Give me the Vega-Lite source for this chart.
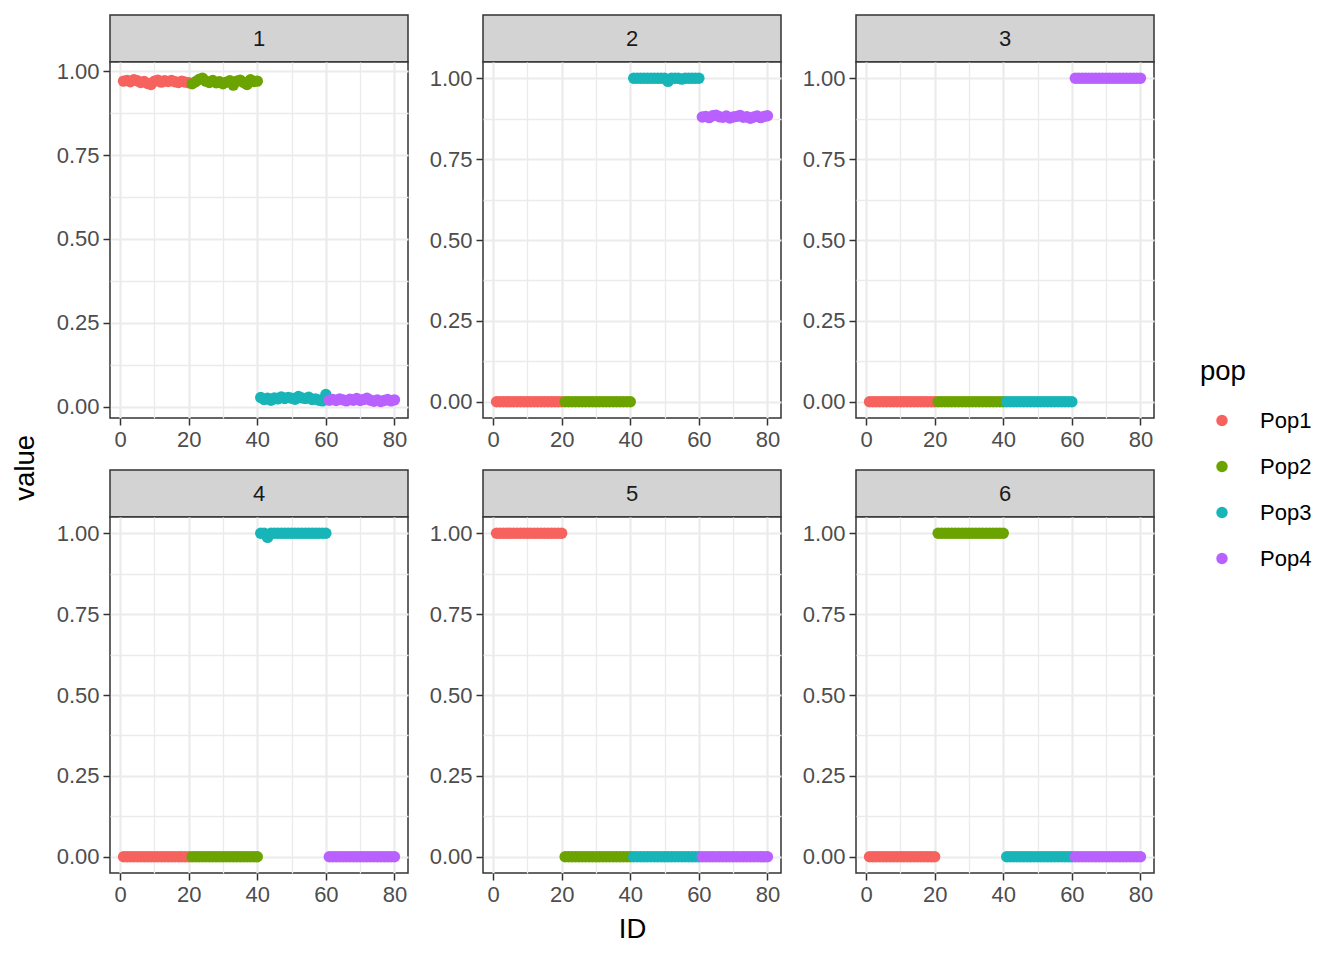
{
  "$schema": "https://vega.github.io/schema/vega-lite/v6.json",
  "description": "Faceted membership values by ID and population, six panels",
  "padding": {"left": 11, "top": 14, "right": 12, "bottom": 10},
  "background": "white",
  "title": {"text": "value", "orient": "left", "anchor": "middle", "fontSize": 27.5, "fontWeight": "normal", "color": "black", "offset": 16, "dx": 11},
  "datasets": {
    "p1": [
      {"ID":1,"pop":"Pop1","value":0.970},{"ID":2,"pop":"Pop1","value":0.972},{"ID":3,"pop":"Pop1","value":0.968},{"ID":4,"pop":"Pop1","value":0.974},
      {"ID":5,"pop":"Pop1","value":0.971},{"ID":6,"pop":"Pop1","value":0.966},{"ID":7,"pop":"Pop1","value":0.969},{"ID":8,"pop":"Pop1","value":0.963},
      {"ID":9,"pop":"Pop1","value":0.960},{"ID":10,"pop":"Pop1","value":0.970},{"ID":11,"pop":"Pop1","value":0.973},{"ID":12,"pop":"Pop1","value":0.967},
      {"ID":13,"pop":"Pop1","value":0.971},{"ID":14,"pop":"Pop1","value":0.969},{"ID":15,"pop":"Pop1","value":0.972},{"ID":16,"pop":"Pop1","value":0.968},
      {"ID":17,"pop":"Pop1","value":0.966},{"ID":18,"pop":"Pop1","value":0.970},{"ID":19,"pop":"Pop1","value":0.967},{"ID":20,"pop":"Pop1","value":0.965},
      {"ID":21,"pop":"Pop2","value":0.962},{"ID":22,"pop":"Pop2","value":0.968},{"ID":23,"pop":"Pop2","value":0.975},{"ID":24,"pop":"Pop2","value":0.979},
      {"ID":25,"pop":"Pop2","value":0.970},{"ID":26,"pop":"Pop2","value":0.966},{"ID":27,"pop":"Pop2","value":0.972},{"ID":28,"pop":"Pop2","value":0.965},
      {"ID":29,"pop":"Pop2","value":0.968},{"ID":30,"pop":"Pop2","value":0.962},{"ID":31,"pop":"Pop2","value":0.967},{"ID":32,"pop":"Pop2","value":0.971},
      {"ID":33,"pop":"Pop2","value":0.958},{"ID":34,"pop":"Pop2","value":0.970},{"ID":35,"pop":"Pop2","value":0.973},{"ID":36,"pop":"Pop2","value":0.966},
      {"ID":37,"pop":"Pop2","value":0.960},{"ID":38,"pop":"Pop2","value":0.974},{"ID":39,"pop":"Pop2","value":0.969},{"ID":40,"pop":"Pop2","value":0.970},
      {"ID":41,"pop":"Pop3","value":0.028},{"ID":42,"pop":"Pop3","value":0.022},{"ID":43,"pop":"Pop3","value":0.026},{"ID":44,"pop":"Pop3","value":0.020},
      {"ID":45,"pop":"Pop3","value":0.027},{"ID":46,"pop":"Pop3","value":0.024},{"ID":47,"pop":"Pop3","value":0.030},{"ID":48,"pop":"Pop3","value":0.025},
      {"ID":49,"pop":"Pop3","value":0.028},{"ID":50,"pop":"Pop3","value":0.026},{"ID":51,"pop":"Pop3","value":0.023},{"ID":52,"pop":"Pop3","value":0.031},
      {"ID":53,"pop":"Pop3","value":0.027},{"ID":54,"pop":"Pop3","value":0.025},{"ID":55,"pop":"Pop3","value":0.029},{"ID":56,"pop":"Pop3","value":0.022},
      {"ID":57,"pop":"Pop3","value":0.024},{"ID":58,"pop":"Pop3","value":0.020},{"ID":59,"pop":"Pop3","value":0.018},{"ID":60,"pop":"Pop3","value":0.037},
      {"ID":61,"pop":"Pop4","value":0.020},{"ID":62,"pop":"Pop4","value":0.022},{"ID":63,"pop":"Pop4","value":0.019},{"ID":64,"pop":"Pop4","value":0.024},
      {"ID":65,"pop":"Pop4","value":0.021},{"ID":66,"pop":"Pop4","value":0.018},{"ID":67,"pop":"Pop4","value":0.023},{"ID":68,"pop":"Pop4","value":0.020},
      {"ID":69,"pop":"Pop4","value":0.025},{"ID":70,"pop":"Pop4","value":0.019},{"ID":71,"pop":"Pop4","value":0.022},{"ID":72,"pop":"Pop4","value":0.026},
      {"ID":73,"pop":"Pop4","value":0.020},{"ID":74,"pop":"Pop4","value":0.017},{"ID":75,"pop":"Pop4","value":0.021},{"ID":76,"pop":"Pop4","value":0.016},
      {"ID":77,"pop":"Pop4","value":0.019},{"ID":78,"pop":"Pop4","value":0.022},{"ID":79,"pop":"Pop4","value":0.018},{"ID":80,"pop":"Pop4","value":0.021}
    ],
    "p2": [
      {"ID":1,"pop":"Pop1","value":0},{"ID":2,"pop":"Pop1","value":0},{"ID":3,"pop":"Pop1","value":0},{"ID":4,"pop":"Pop1","value":0},
      {"ID":5,"pop":"Pop1","value":0},{"ID":6,"pop":"Pop1","value":0},{"ID":7,"pop":"Pop1","value":0},{"ID":8,"pop":"Pop1","value":0},
      {"ID":9,"pop":"Pop1","value":0},{"ID":10,"pop":"Pop1","value":0},{"ID":11,"pop":"Pop1","value":0},{"ID":12,"pop":"Pop1","value":0},
      {"ID":13,"pop":"Pop1","value":0},{"ID":14,"pop":"Pop1","value":0},{"ID":15,"pop":"Pop1","value":0},{"ID":16,"pop":"Pop1","value":0},
      {"ID":17,"pop":"Pop1","value":0},{"ID":18,"pop":"Pop1","value":0},{"ID":19,"pop":"Pop1","value":0},{"ID":20,"pop":"Pop1","value":0},
      {"ID":21,"pop":"Pop2","value":0},{"ID":22,"pop":"Pop2","value":0},{"ID":23,"pop":"Pop2","value":0},{"ID":24,"pop":"Pop2","value":0},
      {"ID":25,"pop":"Pop2","value":0},{"ID":26,"pop":"Pop2","value":0},{"ID":27,"pop":"Pop2","value":0},{"ID":28,"pop":"Pop2","value":0},
      {"ID":29,"pop":"Pop2","value":0},{"ID":30,"pop":"Pop2","value":0},{"ID":31,"pop":"Pop2","value":0},{"ID":32,"pop":"Pop2","value":0},
      {"ID":33,"pop":"Pop2","value":0},{"ID":34,"pop":"Pop2","value":0},{"ID":35,"pop":"Pop2","value":0},{"ID":36,"pop":"Pop2","value":0},
      {"ID":37,"pop":"Pop2","value":0},{"ID":38,"pop":"Pop2","value":0},{"ID":39,"pop":"Pop2","value":0},{"ID":40,"pop":"Pop2","value":0},
      {"ID":41,"pop":"Pop3","value":1},{"ID":42,"pop":"Pop3","value":1},{"ID":43,"pop":"Pop3","value":1},{"ID":44,"pop":"Pop3","value":1},
      {"ID":45,"pop":"Pop3","value":1},{"ID":46,"pop":"Pop3","value":1},{"ID":47,"pop":"Pop3","value":1},{"ID":48,"pop":"Pop3","value":1},
      {"ID":49,"pop":"Pop3","value":1},{"ID":50,"pop":"Pop3","value":1},{"ID":51,"pop":"Pop3","value":0.99},{"ID":52,"pop":"Pop3","value":1},
      {"ID":53,"pop":"Pop3","value":1},{"ID":54,"pop":"Pop3","value":1},{"ID":55,"pop":"Pop3","value":0.997},{"ID":56,"pop":"Pop3","value":1},
      {"ID":57,"pop":"Pop3","value":1},{"ID":58,"pop":"Pop3","value":1},{"ID":59,"pop":"Pop3","value":1},{"ID":60,"pop":"Pop3","value":1},
      {"ID":61,"pop":"Pop4","value":0.880},{"ID":62,"pop":"Pop4","value":0.882},{"ID":63,"pop":"Pop4","value":0.878},{"ID":64,"pop":"Pop4","value":0.884},
      {"ID":65,"pop":"Pop4","value":0.886},{"ID":66,"pop":"Pop4","value":0.881},{"ID":67,"pop":"Pop4","value":0.879},{"ID":68,"pop":"Pop4","value":0.883},
      {"ID":69,"pop":"Pop4","value":0.877},{"ID":70,"pop":"Pop4","value":0.880},{"ID":71,"pop":"Pop4","value":0.882},{"ID":72,"pop":"Pop4","value":0.885},
      {"ID":73,"pop":"Pop4","value":0.879},{"ID":74,"pop":"Pop4","value":0.881},{"ID":75,"pop":"Pop4","value":0.876},{"ID":76,"pop":"Pop4","value":0.880},
      {"ID":77,"pop":"Pop4","value":0.883},{"ID":78,"pop":"Pop4","value":0.878},{"ID":79,"pop":"Pop4","value":0.882},{"ID":80,"pop":"Pop4","value":0.884}
    ],
    "p3": [
      {"ID":1,"pop":"Pop1","value":0},{"ID":2,"pop":"Pop1","value":0},{"ID":3,"pop":"Pop1","value":0},{"ID":4,"pop":"Pop1","value":0},
      {"ID":5,"pop":"Pop1","value":0},{"ID":6,"pop":"Pop1","value":0},{"ID":7,"pop":"Pop1","value":0},{"ID":8,"pop":"Pop1","value":0},
      {"ID":9,"pop":"Pop1","value":0},{"ID":10,"pop":"Pop1","value":0},{"ID":11,"pop":"Pop1","value":0},{"ID":12,"pop":"Pop1","value":0},
      {"ID":13,"pop":"Pop1","value":0},{"ID":14,"pop":"Pop1","value":0},{"ID":15,"pop":"Pop1","value":0},{"ID":16,"pop":"Pop1","value":0},
      {"ID":17,"pop":"Pop1","value":0},{"ID":18,"pop":"Pop1","value":0},{"ID":19,"pop":"Pop1","value":0},{"ID":20,"pop":"Pop1","value":0},
      {"ID":21,"pop":"Pop2","value":0},{"ID":22,"pop":"Pop2","value":0},{"ID":23,"pop":"Pop2","value":0},{"ID":24,"pop":"Pop2","value":0},
      {"ID":25,"pop":"Pop2","value":0},{"ID":26,"pop":"Pop2","value":0},{"ID":27,"pop":"Pop2","value":0},{"ID":28,"pop":"Pop2","value":0},
      {"ID":29,"pop":"Pop2","value":0},{"ID":30,"pop":"Pop2","value":0},{"ID":31,"pop":"Pop2","value":0},{"ID":32,"pop":"Pop2","value":0},
      {"ID":33,"pop":"Pop2","value":0},{"ID":34,"pop":"Pop2","value":0},{"ID":35,"pop":"Pop2","value":0},{"ID":36,"pop":"Pop2","value":0},
      {"ID":37,"pop":"Pop2","value":0},{"ID":38,"pop":"Pop2","value":0},{"ID":39,"pop":"Pop2","value":0},{"ID":40,"pop":"Pop2","value":0},
      {"ID":41,"pop":"Pop3","value":0},{"ID":42,"pop":"Pop3","value":0},{"ID":43,"pop":"Pop3","value":0},{"ID":44,"pop":"Pop3","value":0},
      {"ID":45,"pop":"Pop3","value":0},{"ID":46,"pop":"Pop3","value":0},{"ID":47,"pop":"Pop3","value":0},{"ID":48,"pop":"Pop3","value":0},
      {"ID":49,"pop":"Pop3","value":0},{"ID":50,"pop":"Pop3","value":0},{"ID":51,"pop":"Pop3","value":0},{"ID":52,"pop":"Pop3","value":0},
      {"ID":53,"pop":"Pop3","value":0},{"ID":54,"pop":"Pop3","value":0},{"ID":55,"pop":"Pop3","value":0},{"ID":56,"pop":"Pop3","value":0},
      {"ID":57,"pop":"Pop3","value":0},{"ID":58,"pop":"Pop3","value":0},{"ID":59,"pop":"Pop3","value":0},{"ID":60,"pop":"Pop3","value":0},
      {"ID":61,"pop":"Pop4","value":1},{"ID":62,"pop":"Pop4","value":1},{"ID":63,"pop":"Pop4","value":1},{"ID":64,"pop":"Pop4","value":1},
      {"ID":65,"pop":"Pop4","value":1},{"ID":66,"pop":"Pop4","value":1},{"ID":67,"pop":"Pop4","value":1},{"ID":68,"pop":"Pop4","value":1},
      {"ID":69,"pop":"Pop4","value":1},{"ID":70,"pop":"Pop4","value":1},{"ID":71,"pop":"Pop4","value":1},{"ID":72,"pop":"Pop4","value":1},
      {"ID":73,"pop":"Pop4","value":1},{"ID":74,"pop":"Pop4","value":1},{"ID":75,"pop":"Pop4","value":1},{"ID":76,"pop":"Pop4","value":1},
      {"ID":77,"pop":"Pop4","value":1},{"ID":78,"pop":"Pop4","value":1},{"ID":79,"pop":"Pop4","value":1},{"ID":80,"pop":"Pop4","value":1}
    ],
    "p4": [
      {"ID":1,"pop":"Pop1","value":0},{"ID":2,"pop":"Pop1","value":0},{"ID":3,"pop":"Pop1","value":0},{"ID":4,"pop":"Pop1","value":0},
      {"ID":5,"pop":"Pop1","value":0},{"ID":6,"pop":"Pop1","value":0},{"ID":7,"pop":"Pop1","value":0},{"ID":8,"pop":"Pop1","value":0},
      {"ID":9,"pop":"Pop1","value":0},{"ID":10,"pop":"Pop1","value":0},{"ID":11,"pop":"Pop1","value":0},{"ID":12,"pop":"Pop1","value":0},
      {"ID":13,"pop":"Pop1","value":0},{"ID":14,"pop":"Pop1","value":0},{"ID":15,"pop":"Pop1","value":0},{"ID":16,"pop":"Pop1","value":0},
      {"ID":17,"pop":"Pop1","value":0},{"ID":18,"pop":"Pop1","value":0},{"ID":19,"pop":"Pop1","value":0},{"ID":20,"pop":"Pop1","value":0},
      {"ID":21,"pop":"Pop2","value":0},{"ID":22,"pop":"Pop2","value":0},{"ID":23,"pop":"Pop2","value":0},{"ID":24,"pop":"Pop2","value":0},
      {"ID":25,"pop":"Pop2","value":0},{"ID":26,"pop":"Pop2","value":0},{"ID":27,"pop":"Pop2","value":0},{"ID":28,"pop":"Pop2","value":0},
      {"ID":29,"pop":"Pop2","value":0},{"ID":30,"pop":"Pop2","value":0},{"ID":31,"pop":"Pop2","value":0},{"ID":32,"pop":"Pop2","value":0},
      {"ID":33,"pop":"Pop2","value":0},{"ID":34,"pop":"Pop2","value":0},{"ID":35,"pop":"Pop2","value":0},{"ID":36,"pop":"Pop2","value":0},
      {"ID":37,"pop":"Pop2","value":0},{"ID":38,"pop":"Pop2","value":0},{"ID":39,"pop":"Pop2","value":0},{"ID":40,"pop":"Pop2","value":0},
      {"ID":41,"pop":"Pop3","value":1},{"ID":42,"pop":"Pop3","value":1},{"ID":43,"pop":"Pop3","value":0.987},{"ID":44,"pop":"Pop3","value":1},
      {"ID":45,"pop":"Pop3","value":1},{"ID":46,"pop":"Pop3","value":1},{"ID":47,"pop":"Pop3","value":1},{"ID":48,"pop":"Pop3","value":1},
      {"ID":49,"pop":"Pop3","value":1},{"ID":50,"pop":"Pop3","value":1},{"ID":51,"pop":"Pop3","value":1},{"ID":52,"pop":"Pop3","value":1},
      {"ID":53,"pop":"Pop3","value":1},{"ID":54,"pop":"Pop3","value":1},{"ID":55,"pop":"Pop3","value":1},{"ID":56,"pop":"Pop3","value":1},
      {"ID":57,"pop":"Pop3","value":1},{"ID":58,"pop":"Pop3","value":1},{"ID":59,"pop":"Pop3","value":1},{"ID":60,"pop":"Pop3","value":1},
      {"ID":61,"pop":"Pop4","value":0},{"ID":62,"pop":"Pop4","value":0},{"ID":63,"pop":"Pop4","value":0},{"ID":64,"pop":"Pop4","value":0},
      {"ID":65,"pop":"Pop4","value":0},{"ID":66,"pop":"Pop4","value":0},{"ID":67,"pop":"Pop4","value":0},{"ID":68,"pop":"Pop4","value":0},
      {"ID":69,"pop":"Pop4","value":0},{"ID":70,"pop":"Pop4","value":0},{"ID":71,"pop":"Pop4","value":0},{"ID":72,"pop":"Pop4","value":0},
      {"ID":73,"pop":"Pop4","value":0},{"ID":74,"pop":"Pop4","value":0},{"ID":75,"pop":"Pop4","value":0},{"ID":76,"pop":"Pop4","value":0},
      {"ID":77,"pop":"Pop4","value":0},{"ID":78,"pop":"Pop4","value":0},{"ID":79,"pop":"Pop4","value":0},{"ID":80,"pop":"Pop4","value":0}
    ],
    "p5": [
      {"ID":1,"pop":"Pop1","value":1},{"ID":2,"pop":"Pop1","value":1},{"ID":3,"pop":"Pop1","value":1},{"ID":4,"pop":"Pop1","value":1},
      {"ID":5,"pop":"Pop1","value":1},{"ID":6,"pop":"Pop1","value":1},{"ID":7,"pop":"Pop1","value":1},{"ID":8,"pop":"Pop1","value":1},
      {"ID":9,"pop":"Pop1","value":1},{"ID":10,"pop":"Pop1","value":1},{"ID":11,"pop":"Pop1","value":1},{"ID":12,"pop":"Pop1","value":1},
      {"ID":13,"pop":"Pop1","value":1},{"ID":14,"pop":"Pop1","value":1},{"ID":15,"pop":"Pop1","value":1},{"ID":16,"pop":"Pop1","value":1},
      {"ID":17,"pop":"Pop1","value":1},{"ID":18,"pop":"Pop1","value":1},{"ID":19,"pop":"Pop1","value":1},{"ID":20,"pop":"Pop1","value":1},
      {"ID":21,"pop":"Pop2","value":0},{"ID":22,"pop":"Pop2","value":0},{"ID":23,"pop":"Pop2","value":0},{"ID":24,"pop":"Pop2","value":0},
      {"ID":25,"pop":"Pop2","value":0},{"ID":26,"pop":"Pop2","value":0},{"ID":27,"pop":"Pop2","value":0},{"ID":28,"pop":"Pop2","value":0},
      {"ID":29,"pop":"Pop2","value":0},{"ID":30,"pop":"Pop2","value":0},{"ID":31,"pop":"Pop2","value":0},{"ID":32,"pop":"Pop2","value":0},
      {"ID":33,"pop":"Pop2","value":0},{"ID":34,"pop":"Pop2","value":0},{"ID":35,"pop":"Pop2","value":0},{"ID":36,"pop":"Pop2","value":0},
      {"ID":37,"pop":"Pop2","value":0},{"ID":38,"pop":"Pop2","value":0},{"ID":39,"pop":"Pop2","value":0},{"ID":40,"pop":"Pop2","value":0},
      {"ID":41,"pop":"Pop3","value":0},{"ID":42,"pop":"Pop3","value":0},{"ID":43,"pop":"Pop3","value":0},{"ID":44,"pop":"Pop3","value":0},
      {"ID":45,"pop":"Pop3","value":0},{"ID":46,"pop":"Pop3","value":0},{"ID":47,"pop":"Pop3","value":0},{"ID":48,"pop":"Pop3","value":0},
      {"ID":49,"pop":"Pop3","value":0},{"ID":50,"pop":"Pop3","value":0},{"ID":51,"pop":"Pop3","value":0},{"ID":52,"pop":"Pop3","value":0},
      {"ID":53,"pop":"Pop3","value":0},{"ID":54,"pop":"Pop3","value":0},{"ID":55,"pop":"Pop3","value":0},{"ID":56,"pop":"Pop3","value":0},
      {"ID":57,"pop":"Pop3","value":0},{"ID":58,"pop":"Pop3","value":0},{"ID":59,"pop":"Pop3","value":0},{"ID":60,"pop":"Pop3","value":0},
      {"ID":61,"pop":"Pop4","value":0},{"ID":62,"pop":"Pop4","value":0},{"ID":63,"pop":"Pop4","value":0},{"ID":64,"pop":"Pop4","value":0},
      {"ID":65,"pop":"Pop4","value":0},{"ID":66,"pop":"Pop4","value":0},{"ID":67,"pop":"Pop4","value":0},{"ID":68,"pop":"Pop4","value":0},
      {"ID":69,"pop":"Pop4","value":0},{"ID":70,"pop":"Pop4","value":0},{"ID":71,"pop":"Pop4","value":0},{"ID":72,"pop":"Pop4","value":0},
      {"ID":73,"pop":"Pop4","value":0},{"ID":74,"pop":"Pop4","value":0},{"ID":75,"pop":"Pop4","value":0},{"ID":76,"pop":"Pop4","value":0},
      {"ID":77,"pop":"Pop4","value":0},{"ID":78,"pop":"Pop4","value":0},{"ID":79,"pop":"Pop4","value":0},{"ID":80,"pop":"Pop4","value":0}
    ],
    "p6": [
      {"ID":1,"pop":"Pop1","value":0},{"ID":2,"pop":"Pop1","value":0},{"ID":3,"pop":"Pop1","value":0},{"ID":4,"pop":"Pop1","value":0},
      {"ID":5,"pop":"Pop1","value":0},{"ID":6,"pop":"Pop1","value":0},{"ID":7,"pop":"Pop1","value":0},{"ID":8,"pop":"Pop1","value":0},
      {"ID":9,"pop":"Pop1","value":0},{"ID":10,"pop":"Pop1","value":0},{"ID":11,"pop":"Pop1","value":0},{"ID":12,"pop":"Pop1","value":0},
      {"ID":13,"pop":"Pop1","value":0},{"ID":14,"pop":"Pop1","value":0},{"ID":15,"pop":"Pop1","value":0},{"ID":16,"pop":"Pop1","value":0},
      {"ID":17,"pop":"Pop1","value":0},{"ID":18,"pop":"Pop1","value":0},{"ID":19,"pop":"Pop1","value":0},{"ID":20,"pop":"Pop1","value":0},
      {"ID":21,"pop":"Pop2","value":1},{"ID":22,"pop":"Pop2","value":1},{"ID":23,"pop":"Pop2","value":1},{"ID":24,"pop":"Pop2","value":1},
      {"ID":25,"pop":"Pop2","value":1},{"ID":26,"pop":"Pop2","value":1},{"ID":27,"pop":"Pop2","value":1},{"ID":28,"pop":"Pop2","value":1},
      {"ID":29,"pop":"Pop2","value":1},{"ID":30,"pop":"Pop2","value":1},{"ID":31,"pop":"Pop2","value":1},{"ID":32,"pop":"Pop2","value":1},
      {"ID":33,"pop":"Pop2","value":1},{"ID":34,"pop":"Pop2","value":1},{"ID":35,"pop":"Pop2","value":1},{"ID":36,"pop":"Pop2","value":1},
      {"ID":37,"pop":"Pop2","value":1},{"ID":38,"pop":"Pop2","value":1},{"ID":39,"pop":"Pop2","value":1},{"ID":40,"pop":"Pop2","value":1},
      {"ID":41,"pop":"Pop3","value":0},{"ID":42,"pop":"Pop3","value":0},{"ID":43,"pop":"Pop3","value":0},{"ID":44,"pop":"Pop3","value":0},
      {"ID":45,"pop":"Pop3","value":0},{"ID":46,"pop":"Pop3","value":0},{"ID":47,"pop":"Pop3","value":0},{"ID":48,"pop":"Pop3","value":0},
      {"ID":49,"pop":"Pop3","value":0},{"ID":50,"pop":"Pop3","value":0},{"ID":51,"pop":"Pop3","value":0},{"ID":52,"pop":"Pop3","value":0},
      {"ID":53,"pop":"Pop3","value":0},{"ID":54,"pop":"Pop3","value":0},{"ID":55,"pop":"Pop3","value":0},{"ID":56,"pop":"Pop3","value":0},
      {"ID":57,"pop":"Pop3","value":0},{"ID":58,"pop":"Pop3","value":0},{"ID":59,"pop":"Pop3","value":0},{"ID":60,"pop":"Pop3","value":0},
      {"ID":61,"pop":"Pop4","value":0},{"ID":62,"pop":"Pop4","value":0},{"ID":63,"pop":"Pop4","value":0},{"ID":64,"pop":"Pop4","value":0},
      {"ID":65,"pop":"Pop4","value":0},{"ID":66,"pop":"Pop4","value":0},{"ID":67,"pop":"Pop4","value":0},{"ID":68,"pop":"Pop4","value":0},
      {"ID":69,"pop":"Pop4","value":0},{"ID":70,"pop":"Pop4","value":0},{"ID":71,"pop":"Pop4","value":0},{"ID":72,"pop":"Pop4","value":0},
      {"ID":73,"pop":"Pop4","value":0},{"ID":74,"pop":"Pop4","value":0},{"ID":75,"pop":"Pop4","value":0},{"ID":76,"pop":"Pop4","value":0},
      {"ID":77,"pop":"Pop4","value":0},{"ID":78,"pop":"Pop4","value":0},{"ID":79,"pop":"Pop4","value":0},{"ID":80,"pop":"Pop4","value":0}
    ]
  },
  "spacing": 18,
  "vconcat": [
    {
      "spacing": 19,
      "hconcat": [
        {
          "bounds": "flush",
          "spacing": 0,
          "vconcat": [
            {"data": {"values": [{"label": "1"}]}, "width": 298, "height": 47,
             "view": {"fill": "#D3D3D3", "stroke": "#333333", "strokeWidth": 1.5},
             "mark": {"type": "text", "fontSize": 22, "color": "#1A1A1A"},
             "encoding": {"text": {"field": "label"}}},
            {"data": {"name": "p1"}, "width": 298, "height": 356,
             "view": {"fill": "white", "stroke": "#333333", "strokeWidth": 1.5},
             "resolve": {"axis": {"x": "independent", "y": "independent"}},
             "layer": [
               {"mark": {"type": "point", "filled": true, "size": 130, "opacity": 1},
                "encoding": {
                  "x": {"field": "ID", "type": "quantitative", "scale": {"domain": [-2.95, 83.95], "nice": false, "zero": false},
                        "axis": {"values": [0, 20, 40, 60, 80], "title": null}},
                  "y": {"field": "value", "type": "quantitative", "scale": {"domain": [-0.033, 1.027], "nice": false, "zero": false},
                        "axis": {"values": [0, 0.25, 0.5, 0.75, 1], "format": ".2f", "title": null}},
                  "color": {"field": "pop", "type": "nominal", "title": "pop",
                            "scale": {"domain": ["Pop1", "Pop2", "Pop3", "Pop4"], "range": ["#F6625D", "#6BA300", "#17B4B8", "#B861FF"]},
                            "legend": {"orient": "none", "legendX": 1090, "legendY": 343}}}},
               {"mark": {"type": "point", "opacity": 0},
                "encoding": {
                  "x": {"field": "ID", "type": "quantitative",
                        "axis": {"orient": "top", "values": [10, 30, 50, 70], "grid": true, "labels": false, "ticks": false, "gridWidth": 1.3, "title": null}},
                  "y": {"field": "value", "type": "quantitative",
                        "axis": {"orient": "right", "values": [0.125, 0.375, 0.625, 0.875], "grid": true, "labels": false, "ticks": false, "gridWidth": 1.3, "title": null}}}}
             ]}
          ]
        },
        {
          "bounds": "flush",
          "spacing": 0,
          "vconcat": [
            {"data": {"values": [{"label": "2"}]}, "width": 298, "height": 47,
             "view": {"fill": "#D3D3D3", "stroke": "#333333", "strokeWidth": 1.5},
             "mark": {"type": "text", "fontSize": 22, "color": "#1A1A1A"},
             "encoding": {"text": {"field": "label"}}},
            {"data": {"name": "p2"}, "width": 298, "height": 356,
             "view": {"fill": "white", "stroke": "#333333", "strokeWidth": 1.5},
             "resolve": {"axis": {"x": "independent", "y": "independent"}},
             "layer": [
               {"mark": {"type": "point", "filled": true, "size": 130, "opacity": 1},
                "encoding": {
                  "x": {"field": "ID", "type": "quantitative", "scale": {"domain": [-2.95, 83.95], "nice": false, "zero": false},
                        "axis": {"values": [0, 20, 40, 60, 80], "title": null}},
                  "y": {"field": "value", "type": "quantitative", "scale": {"domain": [-0.05, 1.05], "nice": false, "zero": false},
                        "axis": {"values": [0, 0.25, 0.5, 0.75, 1], "format": ".2f", "title": null}},
                  "color": {"field": "pop", "type": "nominal"}}},
               {"mark": {"type": "point", "opacity": 0},
                "encoding": {
                  "x": {"field": "ID", "type": "quantitative",
                        "axis": {"orient": "top", "values": [10, 30, 50, 70], "grid": true, "labels": false, "ticks": false, "gridWidth": 1.3, "title": null}},
                  "y": {"field": "value", "type": "quantitative",
                        "axis": {"orient": "right", "values": [0.125, 0.375, 0.625, 0.875], "grid": true, "labels": false, "ticks": false, "gridWidth": 1.3, "title": null}}}}
             ]}
          ]
        },
        {
          "bounds": "flush",
          "spacing": 0,
          "vconcat": [
            {"data": {"values": [{"label": "3"}]}, "width": 298, "height": 47,
             "view": {"fill": "#D3D3D3", "stroke": "#333333", "strokeWidth": 1.5},
             "mark": {"type": "text", "fontSize": 22, "color": "#1A1A1A"},
             "encoding": {"text": {"field": "label"}}},
            {"data": {"name": "p3"}, "width": 298, "height": 356,
             "view": {"fill": "white", "stroke": "#333333", "strokeWidth": 1.5},
             "resolve": {"axis": {"x": "independent", "y": "independent"}},
             "layer": [
               {"mark": {"type": "point", "filled": true, "size": 130, "opacity": 1},
                "encoding": {
                  "x": {"field": "ID", "type": "quantitative", "scale": {"domain": [-2.95, 83.95], "nice": false, "zero": false},
                        "axis": {"values": [0, 20, 40, 60, 80], "title": null}},
                  "y": {"field": "value", "type": "quantitative", "scale": {"domain": [-0.05, 1.05], "nice": false, "zero": false},
                        "axis": {"values": [0, 0.25, 0.5, 0.75, 1], "format": ".2f", "title": null}},
                  "color": {"field": "pop", "type": "nominal"}}},
               {"mark": {"type": "point", "opacity": 0},
                "encoding": {
                  "x": {"field": "ID", "type": "quantitative",
                        "axis": {"orient": "top", "values": [10, 30, 50, 70], "grid": true, "labels": false, "ticks": false, "gridWidth": 1.3, "title": null}},
                  "y": {"field": "value", "type": "quantitative",
                        "axis": {"orient": "right", "values": [0.125, 0.375, 0.625, 0.875], "grid": true, "labels": false, "ticks": false, "gridWidth": 1.3, "title": null}}}}
             ]}
          ]
        }
      ]
    },
    {
      "spacing": 19,
      "hconcat": [
        {
          "bounds": "flush",
          "spacing": 0,
          "vconcat": [
            {"data": {"values": [{"label": "4"}]}, "width": 298, "height": 47,
             "view": {"fill": "#D3D3D3", "stroke": "#333333", "strokeWidth": 1.5},
             "mark": {"type": "text", "fontSize": 22, "color": "#1A1A1A"},
             "encoding": {"text": {"field": "label"}}},
            {"data": {"name": "p4"}, "width": 298, "height": 356,
             "view": {"fill": "white", "stroke": "#333333", "strokeWidth": 1.5},
             "resolve": {"axis": {"x": "independent", "y": "independent"}},
             "layer": [
               {"mark": {"type": "point", "filled": true, "size": 130, "opacity": 1},
                "encoding": {
                  "x": {"field": "ID", "type": "quantitative", "scale": {"domain": [-2.95, 83.95], "nice": false, "zero": false},
                        "axis": {"values": [0, 20, 40, 60, 80], "title": null}},
                  "y": {"field": "value", "type": "quantitative", "scale": {"domain": [-0.05, 1.05], "nice": false, "zero": false},
                        "axis": {"values": [0, 0.25, 0.5, 0.75, 1], "format": ".2f", "title": null}},
                  "color": {"field": "pop", "type": "nominal"}}},
               {"mark": {"type": "point", "opacity": 0},
                "encoding": {
                  "x": {"field": "ID", "type": "quantitative",
                        "axis": {"orient": "top", "values": [10, 30, 50, 70], "grid": true, "labels": false, "ticks": false, "gridWidth": 1.3, "title": null}},
                  "y": {"field": "value", "type": "quantitative",
                        "axis": {"orient": "right", "values": [0.125, 0.375, 0.625, 0.875], "grid": true, "labels": false, "ticks": false, "gridWidth": 1.3, "title": null}}}}
             ]}
          ]
        },
        {
          "bounds": "flush",
          "spacing": 0,
          "vconcat": [
            {"data": {"values": [{"label": "5"}]}, "width": 298, "height": 47,
             "view": {"fill": "#D3D3D3", "stroke": "#333333", "strokeWidth": 1.5},
             "mark": {"type": "text", "fontSize": 22, "color": "#1A1A1A"},
             "encoding": {"text": {"field": "label"}}},
            {"data": {"name": "p5"}, "width": 298, "height": 356,
             "view": {"fill": "white", "stroke": "#333333", "strokeWidth": 1.5},
             "resolve": {"axis": {"x": "independent", "y": "independent"}},
             "layer": [
               {"mark": {"type": "point", "filled": true, "size": 130, "opacity": 1},
                "encoding": {
                  "x": {"field": "ID", "type": "quantitative", "scale": {"domain": [-2.95, 83.95], "nice": false, "zero": false},
                        "axis": {"values": [0, 20, 40, 60, 80], "title": "ID", "titlePadding": 10}},
                  "y": {"field": "value", "type": "quantitative", "scale": {"domain": [-0.05, 1.05], "nice": false, "zero": false},
                        "axis": {"values": [0, 0.25, 0.5, 0.75, 1], "format": ".2f", "title": null}},
                  "color": {"field": "pop", "type": "nominal"}}},
               {"mark": {"type": "point", "opacity": 0},
                "encoding": {
                  "x": {"field": "ID", "type": "quantitative",
                        "axis": {"orient": "top", "values": [10, 30, 50, 70], "grid": true, "labels": false, "ticks": false, "gridWidth": 1.3, "title": null}},
                  "y": {"field": "value", "type": "quantitative",
                        "axis": {"orient": "right", "values": [0.125, 0.375, 0.625, 0.875], "grid": true, "labels": false, "ticks": false, "gridWidth": 1.3, "title": null}}}}
             ]}
          ]
        },
        {
          "bounds": "flush",
          "spacing": 0,
          "vconcat": [
            {"data": {"values": [{"label": "6"}]}, "width": 298, "height": 47,
             "view": {"fill": "#D3D3D3", "stroke": "#333333", "strokeWidth": 1.5},
             "mark": {"type": "text", "fontSize": 22, "color": "#1A1A1A"},
             "encoding": {"text": {"field": "label"}}},
            {"data": {"name": "p6"}, "width": 298, "height": 356,
             "view": {"fill": "white", "stroke": "#333333", "strokeWidth": 1.5},
             "resolve": {"axis": {"x": "independent", "y": "independent"}},
             "layer": [
               {"mark": {"type": "point", "filled": true, "size": 130, "opacity": 1},
                "encoding": {
                  "x": {"field": "ID", "type": "quantitative", "scale": {"domain": [-2.95, 83.95], "nice": false, "zero": false},
                        "axis": {"values": [0, 20, 40, 60, 80], "title": null}},
                  "y": {"field": "value", "type": "quantitative", "scale": {"domain": [-0.05, 1.05], "nice": false, "zero": false},
                        "axis": {"values": [0, 0.25, 0.5, 0.75, 1], "format": ".2f", "title": null}},
                  "color": {"field": "pop", "type": "nominal"}}},
               {"mark": {"type": "point", "opacity": 0},
                "encoding": {
                  "x": {"field": "ID", "type": "quantitative",
                        "axis": {"orient": "top", "values": [10, 30, 50, 70], "grid": true, "labels": false, "ticks": false, "gridWidth": 1.3, "title": null}},
                  "y": {"field": "value", "type": "quantitative",
                        "axis": {"orient": "right", "values": [0.125, 0.375, 0.625, 0.875], "grid": true, "labels": false, "ticks": false, "gridWidth": 1.3, "title": null}}}}
             ]}
          ]
        }
      ]
    }
  ],
  "config": {
    "font": "Liberation Sans",
    "axis": {
      "domain": false,
      "grid": true,
      "gridColor": "#EBEBEB",
      "gridWidth": 2.2,
      "tickColor": "#333333",
      "tickWidth": 1.5,
      "tickSize": 7,
      "labelFontSize": 22,
      "labelColor": "#4D4D4D",
      "labelPadding": 4,
      "labelFlush": false,
      "labelBound": false,
      "titleFontSize": 27.5,
      "titleFontWeight": "normal",
      "titleColor": "black",
      "titlePadding": 8
    },
    "legend": {
      "titleFontSize": 27.5,
      "titleFontWeight": "normal",
      "titleColor": "black",
      "titlePadding": 24,
      "labelFontSize": 22,
      "labelColor": "black",
      "symbolType": "circle",
      "symbolSize": 130,
      "symbolStrokeWidth": 0,
      "symbolOffset": 11,
      "labelOffset": 27,
      "rowPadding": 24
    }
  }
}
